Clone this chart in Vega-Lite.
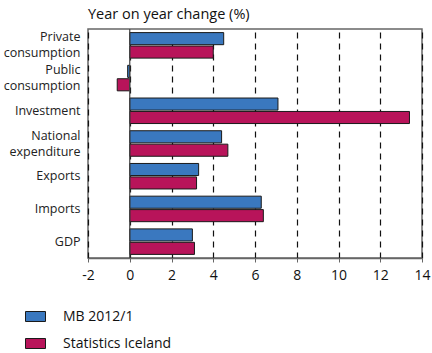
{
  "$schema": "https://vega.github.io/schema/vega-lite/v6.json",
  "width": 334,
  "height": 229,
  "autosize": {"type": "none"},
  "padding": {"left": 88, "top": 29, "right": 10, "bottom": 95},
  "config": {
    "font": "Open Sans",
    "view": {"stroke": "#666666", "strokeWidth": 1.5},
    "axis": {"labelFont": "Open Sans", "labelColor": "#222222"},
    "legend": {"labelFont": "Open Sans"}
  },
  "title": {
    "text": "Year on year change (%)",
    "anchor": "start",
    "frame": "group",
    "fontSize": 14.5,
    "fontWeight": "normal",
    "color": "#111111",
    "offset": 6
  },
  "data": {
    "values": [
      {"category": "Private|consumption", "series": "MB 2012/1", "value": 4.5},
      {"category": "Private|consumption", "series": "Statistics Iceland", "value": 4.0},
      {"category": "Public|consumption", "series": "MB 2012/1", "value": -0.1},
      {"category": "Public|consumption", "series": "Statistics Iceland", "value": -0.6},
      {"category": "Investment", "series": "MB 2012/1", "value": 7.1},
      {"category": "Investment", "series": "Statistics Iceland", "value": 13.4},
      {"category": "National|expenditure", "series": "MB 2012/1", "value": 4.4},
      {"category": "National|expenditure", "series": "Statistics Iceland", "value": 4.7},
      {"category": "Exports", "series": "MB 2012/1", "value": 3.3},
      {"category": "Exports", "series": "Statistics Iceland", "value": 3.2},
      {"category": "Imports", "series": "MB 2012/1", "value": 6.3},
      {"category": "Imports", "series": "Statistics Iceland", "value": 6.4},
      {"category": "GDP", "series": "MB 2012/1", "value": 3.0},
      {"category": "GDP", "series": "Statistics Iceland", "value": 3.1}
    ]
  },
  "layer": [
    {
      "mark": {"type": "bar", "stroke": "#1a1a1a", "strokeWidth": 1},
      "encoding": {
        "y": {
          "field": "category",
          "type": "nominal",
          "sort": null,
          "scale": {"paddingInner": 0.22, "paddingOuter": 0.11},
          "axis": {
            "title": null,
            "ticks": false,
            "domain": false,
            "labelFontSize": 12.5,
            "labelPadding": 8,
            "labelLineHeight": 16,
            "labelOffset": {"condition": {"test": "indexof(datum.label, '|') >= 0", "value": -8}, "value": 0},
            "labelExpr": "split(datum.label, '|')"
          }
        },
        "yOffset": {
          "field": "series",
          "type": "nominal",
          "sort": ["MB 2012/1", "Statistics Iceland"],
          "scale": {"paddingInner": 0.1}
        },
        "x": {
          "field": "value",
          "type": "quantitative",
          "scale": {"domain": [-2, 14], "nice": false, "zero": false},
          "axis": {
            "title": null,
            "values": [-2, 0, 2, 4, 6, 8, 10, 12, 14],
            "labelExpr": "'' + datum.value",
            "labelFontSize": 14,
            "labelColor": "#111111",
            "labelPadding": 6,
            "domainColor": "#666666",
            "domainWidth": 1.5,
            "tickColor": "#666666",
            "tickSize": 4,
            "grid": true,
            "gridColor": "#111111",
            "gridDash": [6, 5],
            "gridWidth": 1.2,
            "labelFlush": false
          }
        },
        "color": {
          "field": "series",
          "type": "nominal",
          "scale": {"domain": ["MB 2012/1", "Statistics Iceland"], "range": ["#3a78bf", "#b8145a"]},
          "legend": {
            "title": null,
            "orient": "none",
            "legendX": -63,
            "legendY": 277,
            "direction": "vertical",
            "symbolType": "M-1,-0.5H1V0.5H-1Z",
            "symbolSize": 400,
            "symbolStrokeColor": "#1a1a1a",
            "symbolStrokeWidth": 1,
            "symbolOpacity": 1,
            "labelFontSize": 14,
            "labelColor": "#111111",
            "labelOffset": 17,
            "rowPadding": 9,
            "padding": 0
          }
        }
      }
    },
    {
      "data": {"values": [{"zero": 0}]},
      "mark": {"type": "rule", "color": "#444444", "strokeWidth": 1.2},
      "encoding": {"x": {"field": "zero", "type": "quantitative"}}
    }
  ]
}
